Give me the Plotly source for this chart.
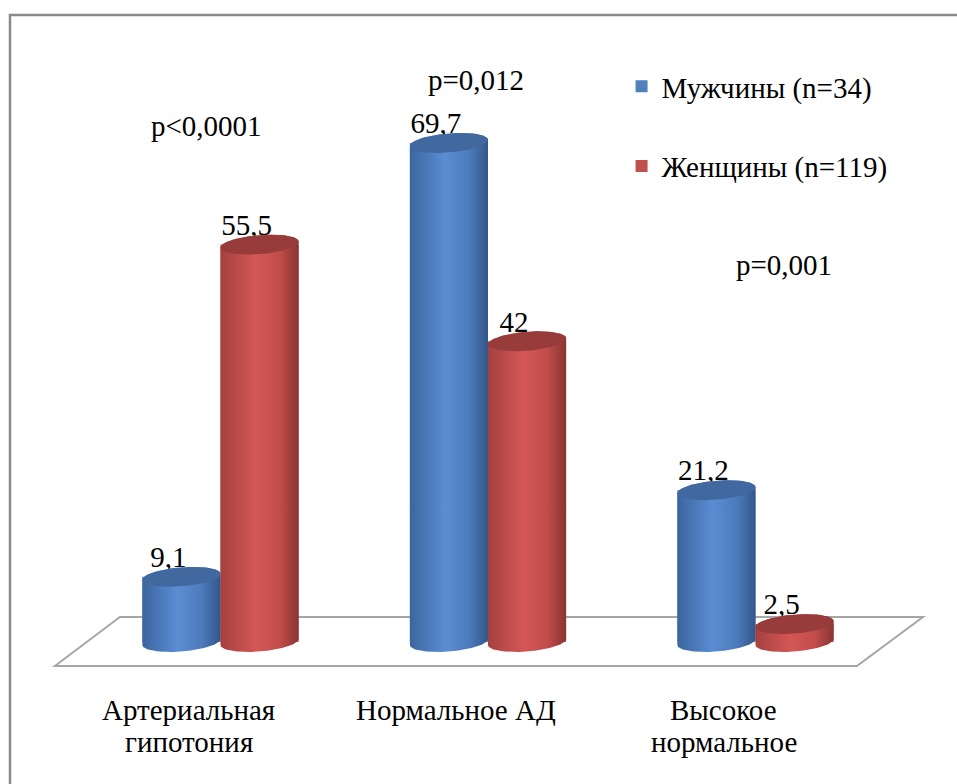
import numpy as np
import plotly.graph_objects as go

# ---- data ----
categories = ["Артериальная\nгипотония", "Нормальное АД", "Высокое\nнормальное"]
men = [9.1, 69.7, 21.2]
women = [55.5, 42.0, 2.5]
men_labels = ["9,1", "69,7", "21,2"]
women_labels = ["55,5", "42", "2,5"]
series_names = ["Мужчины (n=34)", "Женщины (n=119)"]
p_values = ["p<0,0001", "p=0,012", "p=0,001"]

# ---- styling / geometry ----
FONT = "Liberation Serif, Times New Roman, Tinos, DejaVu Serif, serif"
FS = 29
W, H = 957, 784
PX_X = 267.5          # pixels per category step
PX_Y = 7.16           # pixels per percentage point
X0_PX, Y0_PX = 220.5, 642   # pixel position of category 0 / value 0
HALF_W = 0.146        # cylinder radius in category units
ELL_B = 9.5 / PX_Y    # ellipse half height (value units)
SHEAR = 3.0 / PX_Y    # tilt of the ellipses

xr = [(0 - X0_PX) / PX_X, (W - X0_PX) / PX_X]
yr = [(Y0_PX - H) / PX_Y, Y0_PX / PX_Y]

blue_scale = [[0, "#3b659f"], [0.45, "#5b8dd3"], [0.75, "#4d7cbd"], [1, "#34578a"]]
red_scale = [[0, "#a4413f"], [0.45, "#d35755"], [0.75, "#c24d4b"], [1, "#8a3533"]]
blue_top = "#41699f"
red_top = "#973c3a"
blue_flat = "#4f81bd"
red_flat = "#c0504d"

fig = go.Figure()

# legend-bearing bars (flat body under the shaded cylinders)
idx = np.arange(len(categories))
fig.add_trace(go.Bar(x=idx, y=men, width=2 * HALF_W, offset=-2 * HALF_W,
                     marker=dict(color=blue_flat, line=dict(width=0)),
                     name=series_names[0], legendgroup="m", hoverinfo="skip"))
fig.add_trace(go.Bar(x=idx, y=women, width=2 * HALF_W, offset=0,
                     marker=dict(color=red_flat, line=dict(width=0)),
                     name=series_names[1], legendgroup="w", hoverinfo="skip"))

# value labels (drawn first so the cylinders sit over them)
lab_dx = -13 / PX_X
lab_dy = 17 / PX_Y
for vals, labs, sign in [(men, men_labels, -1), (women, women_labels, 1)]:
    fig.add_trace(go.Scatter(
        x=[i + sign * HALF_W + lab_dx for i in idx],
        y=[v + lab_dy for v in vals],
        text=labs, mode="text", textposition="middle center",
        textfont=dict(family=FONT, size=FS, color="black"),
        showlegend=False, hoverinfo="skip"))


def cylinder(cx, v, scale, top_color):
    t_top = np.linspace(np.pi, 0, 60)
    t_bot = np.linspace(0, -np.pi, 60)
    bx = np.concatenate([cx + HALF_W * np.cos(t_top), cx + HALF_W * np.cos(t_bot)])
    by = np.concatenate([v + ELL_B * np.sin(t_top) + SHEAR * np.cos(t_top),
                         ELL_B * np.sin(t_bot) + SHEAR * np.cos(t_bot)])
    fig.add_trace(go.Scatter(
        x=np.append(bx, bx[0]), y=np.append(by, by[0]), mode="lines",
        fill="toself", line=dict(width=0),
        fillgradient=dict(type="horizontal", colorscale=scale),
        showlegend=False, hoverinfo="skip"))
    t = np.linspace(0, 2 * np.pi, 90)
    fig.add_trace(go.Scatter(
        x=cx + HALF_W * np.cos(t), y=v + ELL_B * np.sin(t) + SHEAR * np.cos(t),
        mode="lines", fill="toself", fillcolor=top_color, line=dict(width=0),
        showlegend=False, hoverinfo="skip"))


for i in idx:
    cylinder(i - HALF_W, men[i], blue_scale, blue_top)
    cylinder(i + HALF_W, women[i], red_scale, red_top)

# floor of the 3-D plot area
fl = [(-0.619, -3.35), (-0.376, 3.49), (2.626, 3.49), (2.379, -3.35)]
path = "M " + " L ".join(f"{x},{y}" for x, y in fl) + " Z"
fig.add_shape(type="path", path=path, xref="x", yref="y", layer="below",
              line=dict(color="#a6a6a6", width=2))

# outer chart border
fig.add_shape(type="rect", xref="paper", yref="paper",
              x0=10 / W, x1=1.05, y0=-0.05, y1=1 - 15 / H,
              line=dict(color="#8a8a8a", width=2.5))

# category labels, one annotation per line for tight line spacing
LINE_Y0, LINE_STEP = 710, 32
for i, c in enumerate(categories):
    for k, line in enumerate(c.split("\n")):
        fig.add_annotation(x=i, y=(Y0_PX - (LINE_Y0 + k * LINE_STEP)) / PX_Y,
                           xref="x", yref="y", text=line, showarrow=False,
                           xshift=-32, xanchor="center", yanchor="middle",
                           font=dict(family=FONT, size=FS, color="black"))

# significance labels
p_pos = [(206, 126), (476, 80), (784, 265)]
for txt, (px, py) in zip(p_values, p_pos):
    fig.add_annotation(x=px / W, y=1 - py / H, xref="paper", yref="paper",
                       text=txt, showarrow=False,
                       xanchor="center", yanchor="middle",
                       font=dict(family=FONT, size=FS, color="black"))

fig.update_layout(
    width=W, height=H, margin=dict(l=0, r=0, t=0, b=0),
    paper_bgcolor="white", plot_bgcolor="white",
    barmode="overlay",
    xaxis=dict(range=xr, visible=False, fixedrange=True),
    yaxis=dict(range=yr, visible=False, fixedrange=True),
    legend=dict(x=0.6495, y=1 - 61 / H, xanchor="left", yanchor="top",
                font=dict(family=FONT, size=FS, color="black"),
                traceorder="grouped", tracegroupgap=39,
                bgcolor="rgba(0,0,0,0)"),
    showlegend=True,
)

fig.write_html("out.html")
